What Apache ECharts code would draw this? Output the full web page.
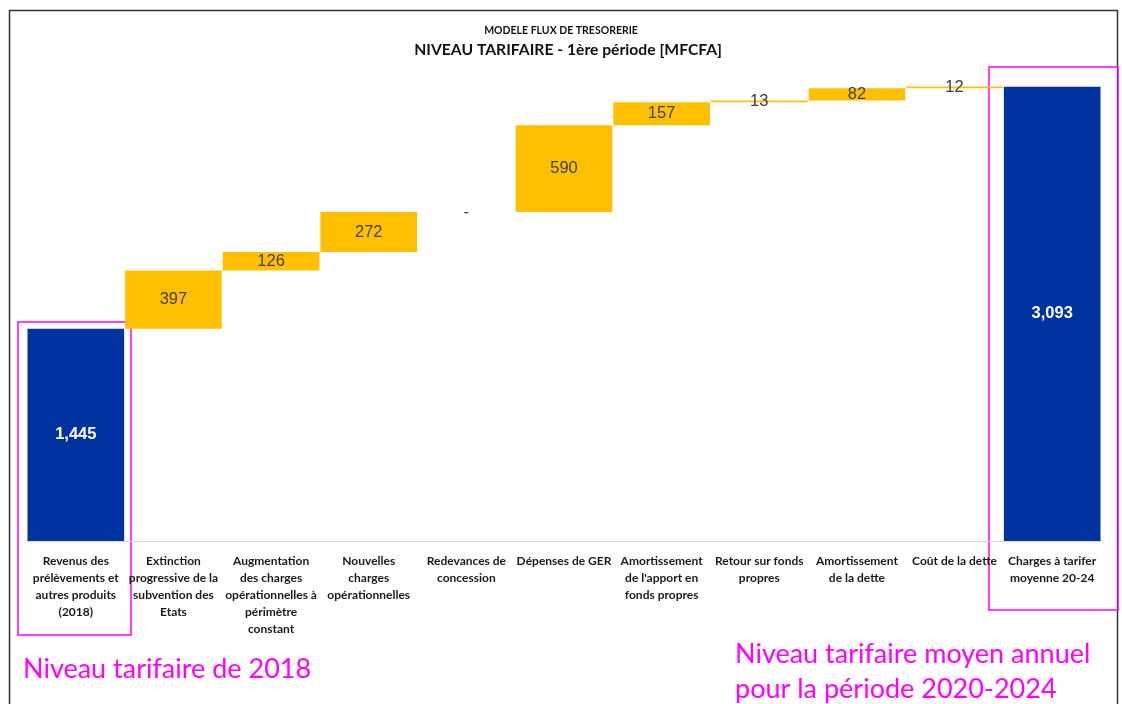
<!DOCTYPE html>
<html>
<head>
<meta charset="utf-8">
<script src="https://cdn.jsdelivr.net/npm/echarts@6/dist/echarts.min.js"></script>
<style>
  html, body { margin: 0; background: #fff; }
  #chart { width: 1122px; height: 704px; }
</style>
</head>
<body>
<div id="chart"></div>
<script>
const categories = [
  'Revenus des\nprélèvements et\nautres produits\n(2018)',
  'Extinction\nprogressive de la\nsubvention des\nEtats',
  'Augmentation\ndes charges\nopérationnelles à\npérimètre\nconstant',
  'Nouvelles\ncharges\nopérationnelles',
  'Redevances de\nconcession',
  'Dépenses de GER',
  'Amortissement\nde l\'apport en\nfonds propres',
  'Retour sur fonds\npropres',
  'Amortissement\nde la dette',
  'Coût de la dette',
  'Charges à tarifer\nmoyenne 20-24'
]
const values = [1445, 397, 126, 272, 0, 590, 157, 13, 82, 12, 3093]
const totalIdx = [0, 10]

const totalColor = '#0033A0'
const stepColor = '#FFC000'

// invisible base for the waterfall steps
let running = 0
const base = values.map((v, i) => {
  if (totalIdx.includes(i)) { running = v; return 0 }
  const b = running
  running += v
  return b
})

const chart = echarts.init(document.getElementById('chart'))

chart.setOption({
  animation: false,
  title: [
    {
      text: 'MODELE FLUX DE TRESORERIE',
      left: 556, top: 20, textAlign: 'center',
      textStyle: { fontFamily: 'Lato, Arial', fontSize: 10.5, fontWeight: 'bold', color: '#111' }
    },
    {
      text: 'NIVEAU TARIFAIRE - 1ère période [MFCFA]',
      left: 563, top: 37, textAlign: 'center',
      textStyle: { fontFamily: 'Lato, Arial', fontSize: 15.7, fontWeight: 'bold', color: '#111' }
    }
  ],
  grid: { left: 27, right: 21, top: 71, bottom: 163 },
  xAxis: {
    type: 'category',
    data: categories,
    axisTick: { show: false },
    axisLine: { lineStyle: { color: '#D9D9D9', width: 1 } },
    axisLabel: {
      interval: 0,
      margin: 12,
      fontFamily: 'Lato, Arial',
      fontSize: 12,
      fontWeight: 'bold',
      lineHeight: 17,
      color: '#1a1a1a'
    }
  },
  yAxis: { type: 'value', min: 0, max: 3200, show: false, splitLine: { show: false } },
  series: [
    {
      type: 'bar',
      stack: 'w',
      data: base,
      itemStyle: { color: 'transparent' },
      silent: true,
      barCategoryGap: '1%'
    },
    {
      type: 'bar',
      stack: 'w',
      barCategoryGap: '1%',
      data: values.map((v, i) => ({
        value: v,
        itemStyle: { color: totalIdx.includes(i) ? totalColor : stepColor },
        label: totalIdx.includes(i)
          ? { color: '#fff', fontWeight: 'bold' }
          : { color: '#404040', fontWeight: 'normal' }
      })),
      label: {
        show: true,
        position: 'inside',
        fontFamily: 'Arial, Liberation Sans',
        fontSize: 16.5,
        formatter: p => p.value === 0 ? '-' : p.value.toLocaleString('en-US')
      }
    }
  ],
  graphic: [
    {
      type: 'rect',
      shape: { x: 9.5, y: 10.5, width: 1108, height: 720 },
      style: { fill: null, stroke: '#333', lineWidth: 1.5 },
      silent: true
    },
    {
      type: 'rect',
      shape: { x: 18, y: 322, width: 113, height: 313 },
      style: { fill: null, stroke: '#FF00FF', lineWidth: 1.5 },
      silent: true
    },
    {
      type: 'rect',
      shape: { x: 989, y: 67, width: 129, height: 543 },
      style: { fill: null, stroke: '#FF00FF', lineWidth: 1.5 },
      silent: true
    },
    {
      type: 'text',
      left: 23, top: 656,
      style: { text: 'Niveau tarifaire de 2018', fill: '#FF00FF', font: '27px Lato, Arial' }
    },
    {
      type: 'text',
      left: 735, top: 637,
      style: {
        text: 'Niveau tarifaire moyen annuel\npour la période 2020-2024',
        fill: '#FF00FF', font: '27px Lato, Arial', lineHeight: 35
      }
    }
  ]
})
</script>
</body>
</html>
